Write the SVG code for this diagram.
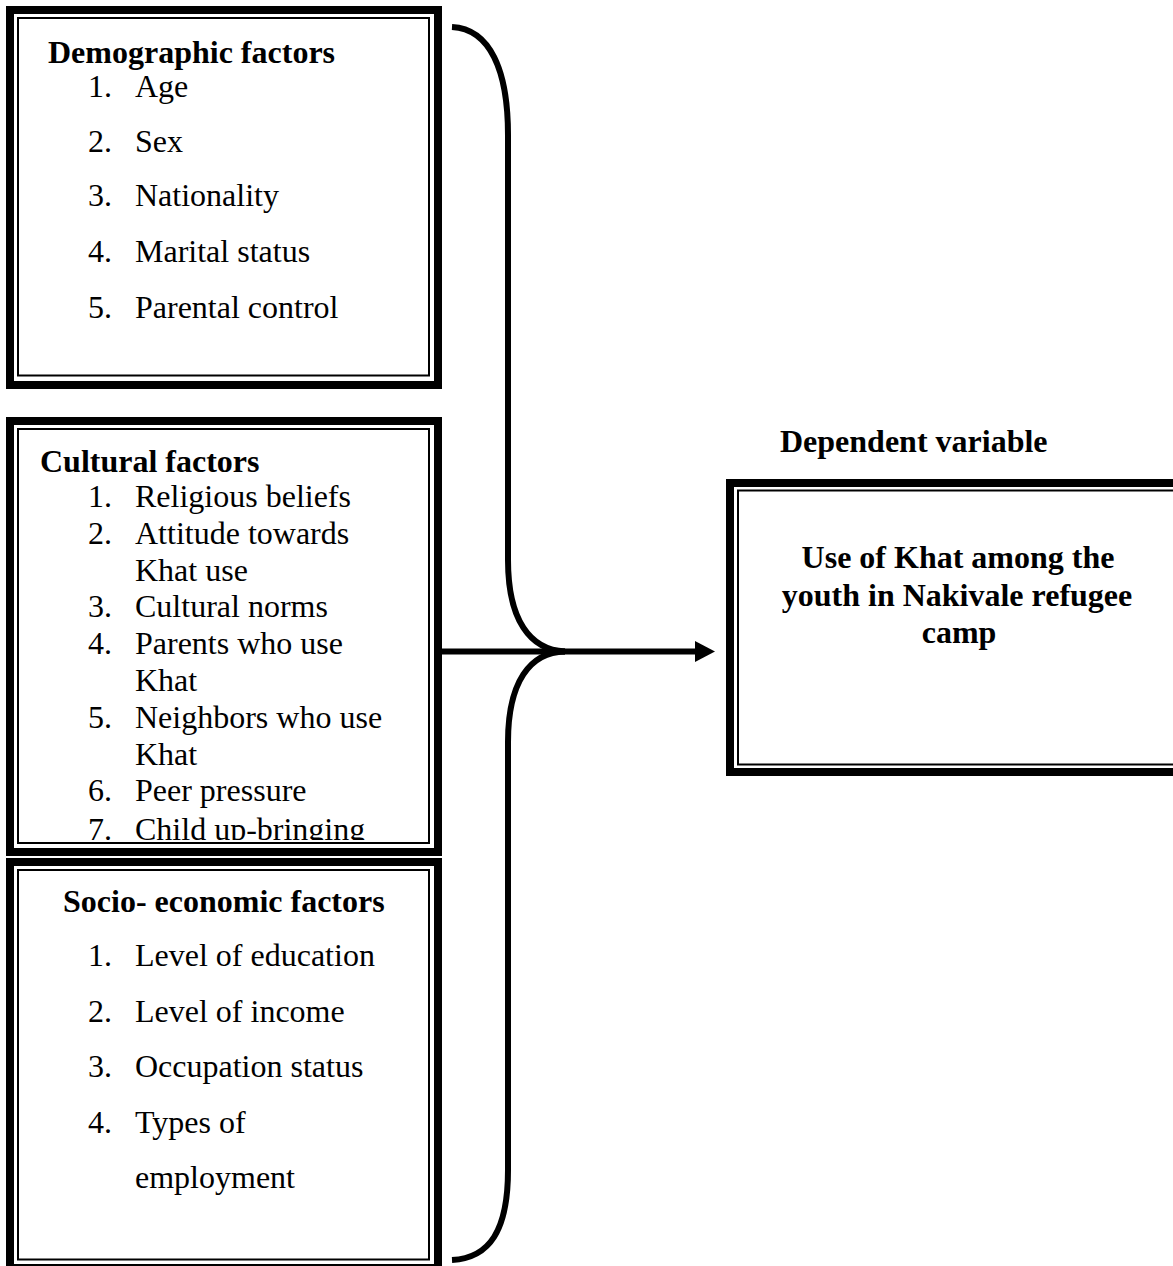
<svg xmlns="http://www.w3.org/2000/svg" width="1173" height="1266" viewBox="0 0 1173 1266">
<style>
.outer{fill:none;stroke:#000;stroke-width:8}
.inner{fill:none;stroke:#000;stroke-width:2}
.t{font-family:"Liberation Serif","Times New Roman",serif;font-size:32px;fill:#000}
.b{font-family:"Liberation Serif","Times New Roman",serif;font-size:32px;font-weight:bold;fill:#000}
.conn{fill:none;stroke:#000;stroke-width:6}
</style>
<defs>
<clipPath id="clip2"><rect x="18" y="429" width="411" height="411"/></clipPath>
</defs>
<rect width="1173" height="1266" fill="#fff"/>
<g id="demographic">
<rect class="outer" x="10" y="10" width="428" height="375"/>
<rect class="inner" x="18" y="18" width="411" height="357.5"/>
<text class="b" x="48" y="63">Demographic factors</text>
<text class="t" x="88" y="97">1.</text><text class="t" x="135" y="97">Age</text>
<text class="t" x="88" y="152">2.</text><text class="t" x="135" y="152">Sex</text>
<text class="t" x="88" y="206">3.</text><text class="t" x="135" y="206">Nationality</text>
<text class="t" x="88" y="262">4.</text><text class="t" x="135" y="262">Marital status</text>
<text class="t" x="88" y="318">5.</text><text class="t" x="135" y="318">Parental control</text>
</g>
<g id="cultural">
<rect class="outer" x="10" y="421" width="428" height="431"/>
<rect class="inner" x="18" y="429" width="411" height="414"/>
<text class="b" x="40" y="472">Cultural factors</text>
<g clip-path="url(#clip2)">
<text class="t" x="88" y="507">1.</text><text class="t" x="135" y="507">Religious beliefs</text>
<text class="t" x="88" y="544">2.</text><text class="t" x="135" y="544">Attitude towards</text>
<text class="t" x="135" y="581">Khat use</text>
<text class="t" x="88" y="617">3.</text><text class="t" x="135" y="617">Cultural norms</text>
<text class="t" x="88" y="654">4.</text><text class="t" x="135" y="654">Parents who use</text>
<text class="t" x="135" y="691">Khat</text>
<text class="t" x="88" y="728">5.</text><text class="t" x="135" y="728">Neighbors who use</text>
<text class="t" x="135" y="765">Khat</text>
<text class="t" x="88" y="801">6.</text><text class="t" x="135" y="801">Peer pressure</text>
<text class="t" x="88" y="840">7.</text><text class="t" x="135" y="840">Child up-bringing</text>
</g>
</g>
<g id="socioeconomic">
<rect class="outer" x="10" y="862" width="428" height="406"/>
<rect class="inner" x="18" y="870" width="411" height="389.5"/>
<text class="b" x="63" y="912">Socio- economic factors</text>
<text class="t" x="88" y="966">1.</text><text class="t" x="135" y="966">Level of education</text>
<text class="t" x="88" y="1022">2.</text><text class="t" x="135" y="1022">Level of income</text>
<text class="t" x="88" y="1077">3.</text><text class="t" x="135" y="1077">Occupation status</text>
<text class="t" x="88" y="1133">4.</text><text class="t" x="135" y="1133">Types of</text>
<text class="t" x="135" y="1188">employment</text>
</g>
<g id="dependent-label">
<text class="b" x="780" y="452">Dependent variable</text>
</g>
<g id="dependent">
<rect class="outer" x="730" y="483" width="480" height="289"/>
<rect class="inner" x="738" y="490.5" width="470" height="274"/>
<text class="b" x="958" y="568" text-anchor="middle">Use of Khat among the</text>
<text class="b" x="957" y="606" text-anchor="middle">youth in Nakivale refugee</text>
<text class="b" x="959" y="643" text-anchor="middle">camp</text>
</g>
<g id="connectors">
<path class="conn" d="M452,27 C490,29 508,70 508,135 L508,560 C508,620 530,650 565,651.5"/>
<path class="conn" d="M565,651.5 C530,652 508,682 508,742 L508,1170 C508,1230 490,1258 452,1260"/>
<line class="conn" x1="441" y1="651.5" x2="698" y2="651.5"/>
<polygon points="695,641 715,651.5 695,662" fill="#000"/>
</g>
</svg>
